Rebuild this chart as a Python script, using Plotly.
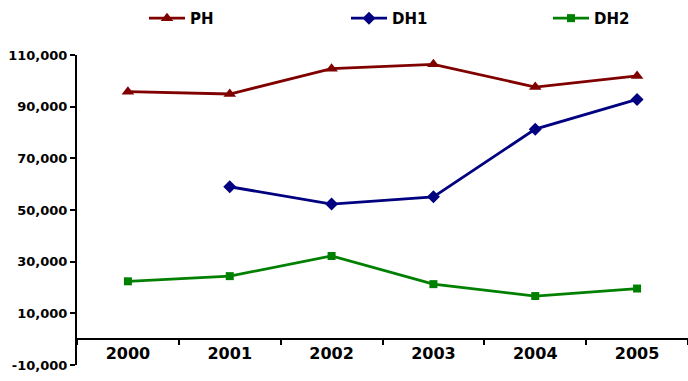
import plotly.graph_objects as go

# Categories and series values
years = ["2000", "2001", "2002", "2003", "2004", "2005"]
ph = [95800, 94900, 104700, 106400, 97600, 101900]
dh1 = [None, 59000, 52300, 55100, 81300, 92800]
dh2 = [22400, 24400, 32200, 21300, 16700, 19600]

y_min, y_max, y_step = -10000, 110000, 20000
y_ticks = list(range(y_min, y_max + 1, y_step))
y_ticktext = [f"{v:,}" for v in y_ticks]  # plain hyphen for negatives

series = [
    ("PH", ph, "#800000", "triangle-up", 11),
    ("DH1", dh1, "#000080", "diamond", 10),
    ("DH2", dh2, "#008000", "square", 8),
]

fig = go.Figure()
for name, vals, color, symbol, msize in series:
    fig.add_trace(go.Scatter(
        x=years, y=vals, name=name, mode="lines+markers",
        line=dict(color=color, width=2.8),
        marker=dict(symbol=symbol, size=msize, color=color),
        connectgaps=False,
    ))

font_family = "DejaVu Sans"

fig.update_layout(
    width=688, height=381,
    margin=dict(l=77, r=0, t=55, b=16),
    paper_bgcolor="white", plot_bgcolor="white",
    font=dict(family=font_family, color="black"),
    showlegend=True,
    legend=dict(
        orientation="h", xref="container", yref="container",
        x=144 / 688, xanchor="left", y=0.995, yanchor="top",
        font=dict(size=15, family=font_family, color="black", weight="bold"),
        itemwidth=36,
        entrywidthmode="pixels", entrywidth=151,
        bgcolor="rgba(0,0,0,0)", borderwidth=0,
    ),
    xaxis=dict(
        type="category", range=[-0.5, 5.5],
        anchor="free", position=(0 - y_min) / (y_max - y_min),
        showline=True, linecolor="black", linewidth=2,
        ticks="outside", ticklen=5, tickwidth=2, tickcolor="black",
        tickson="boundaries", showgrid=False, zeroline=False,
        tickfont=dict(size=16, family=font_family, color="black", weight="bold"),
    ),
    yaxis=dict(
        range=[y_min, y_max], tickmode="array",
        tickvals=y_ticks, ticktext=y_ticktext,
        showline=True, linecolor="black", linewidth=2,
        ticks="outside", ticklen=5, tickwidth=2, tickcolor="black",
        showgrid=False, zeroline=False,
        tickfont=dict(size=13, family=font_family, color="black", weight="bold"),
    ),
)

fig.write_html("out.html")
